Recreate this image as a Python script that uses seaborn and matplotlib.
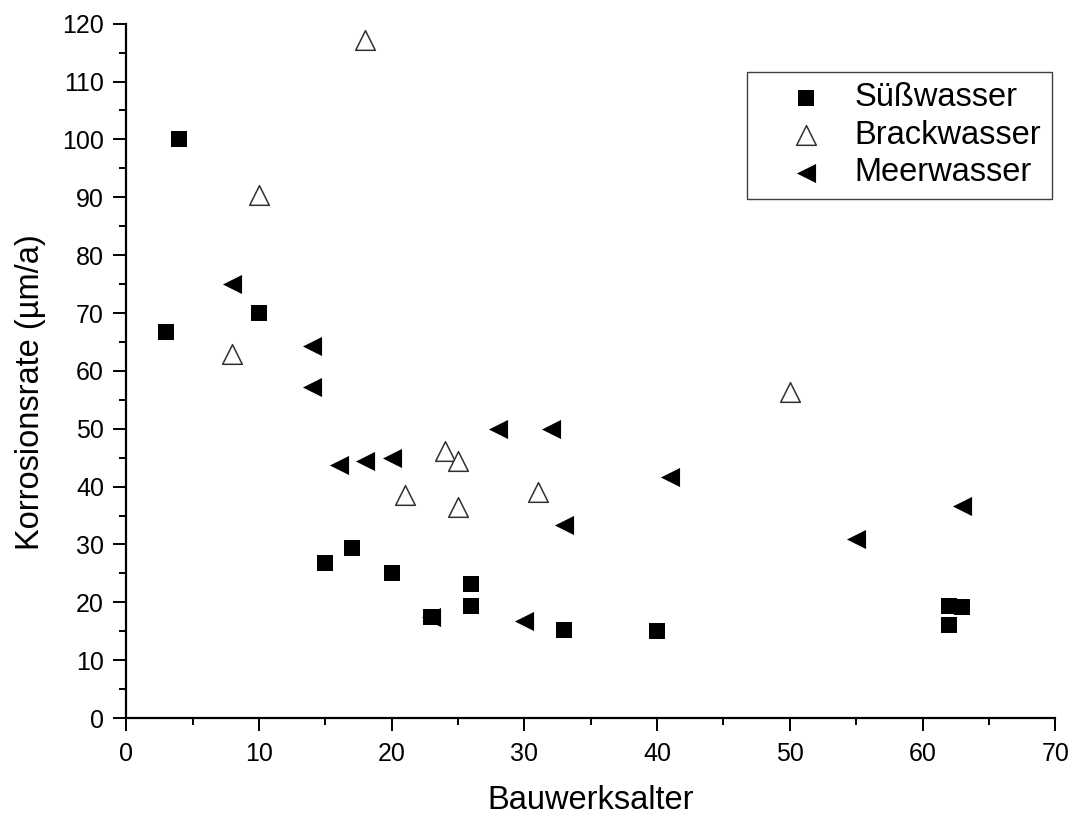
import matplotlib
matplotlib.use("Agg")
import matplotlib.pyplot as plt
import seaborn as sns
import pandas as pd
from matplotlib.ticker import MultipleLocator

# Fresh water (Süßwasser)
suess_alter = [3, 4, 10, 15, 17, 20, 23, 26, 26, 33, 40, 62, 62, 63]
suess_rate = [66.8, 100.0, 70.0, 26.8, 29.4, 25.1, 17.4, 23.2, 19.3, 15.3, 15.1, 19.4, 16.1, 19.2]

# Brackish water (Brackwasser)
brack_alter = [8, 10, 18, 21, 24, 25, 25, 31, 50]
brack_rate = [63.0, 90.4, 117.1, 38.6, 46.2, 44.5, 36.5, 39.1, 56.3]

# Sea water (Meerwasser)
meer_alter = [8, 14, 14, 16, 18, 20, 23, 28, 30, 32, 33, 41, 55, 63]
meer_rate = [75.0, 64.3, 57.2, 43.8, 44.4, 45.0, 17.4, 50.0, 16.7, 50.0, 33.4, 41.6, 31.0, 36.6]

series_names = ["Süßwasser", "Brackwasser", "Meerwasser"]

sns.set_theme(style="ticks")
plt.rcParams["font.family"] = ["Liberation Sans", "DejaVu Sans"]
plt.rcParams["text.color"] = "black"
plt.rcParams["axes.labelcolor"] = "black"
plt.rcParams["xtick.color"] = "black"
plt.rcParams["ytick.color"] = "black"

fig = plt.figure(figsize=(10.78, 8.16), dpi=100)
ax = fig.add_axes([0.117, 0.12, 0.862, 0.851])

df_s = pd.DataFrame({"alter": suess_alter, "rate": suess_rate})
df_b = pd.DataFrame({"alter": brack_alter, "rate": brack_rate})
df_m = pd.DataFrame({"alter": meer_alter, "rate": meer_rate})

sns.scatterplot(data=df_m, x="alter", y="rate", ax=ax, marker="<", s=190,
                color="black", edgecolor="black", linewidth=0, zorder=3,
                label=series_names[2])
sns.scatterplot(data=df_b, x="alter", y="rate", ax=ax, marker="^", s=200,
                facecolor="white", edgecolor="#303030", linewidth=1.1, zorder=3,
                label=series_names[1])
sns.scatterplot(data=df_s, x="alter", y="rate", ax=ax, marker="s", s=125,
                color="black", edgecolor="black", linewidth=0, zorder=4,
                label=series_names[0])

ax.set_xlim(0, 70)
ax.set_ylim(0, 120)
ax.xaxis.set_major_locator(MultipleLocator(10))
ax.xaxis.set_minor_locator(MultipleLocator(5))
ax.yaxis.set_major_locator(MultipleLocator(10))
ax.yaxis.set_minor_locator(MultipleLocator(5))

for side in ["top", "right"]:
    ax.spines[side].set_visible(False)
for side in ["left", "bottom"]:
    ax.spines[side].set_linewidth(1.6)
    ax.spines[side].set_color("black")

ax.tick_params(which="major", direction="out", length=9.5, width=1.4,
               labelsize=18, colors="black")
ax.tick_params(which="minor", direction="out", length=5, width=1.4, colors="black")
ax.tick_params(axis="x", which="major", pad=8)
ax.tick_params(axis="y", which="major", pad=6.5)

ax.set_xlabel("Bauwerksalter", fontsize=23.5, color="black")
ax.set_ylabel("Korrosionsrate (µm/a)", fontsize=23.5, color="black")
ax.xaxis.set_label_coords(0.5, -0.097)
ax.yaxis.set_label_coords(-0.086, 0.47)

handles, labels = ax.get_legend_handles_labels()
order = [labels.index(n) for n in series_names]
leg = ax.legend([handles[i] for i in order], [labels[i] for i in order],
                loc="upper right", bbox_to_anchor=(0.996, 0.931),
                fontsize=23.5, frameon=True, fancybox=False, framealpha=1,
                edgecolor="#404040", borderpad=0.33, handletextpad=0.0,
                labelspacing=0.2, handlelength=2.95, borderaxespad=0,
                labelcolor="black")
leg.get_frame().set_linewidth(1.0)

fig.savefig("out.png", dpi=100, facecolor="white")
